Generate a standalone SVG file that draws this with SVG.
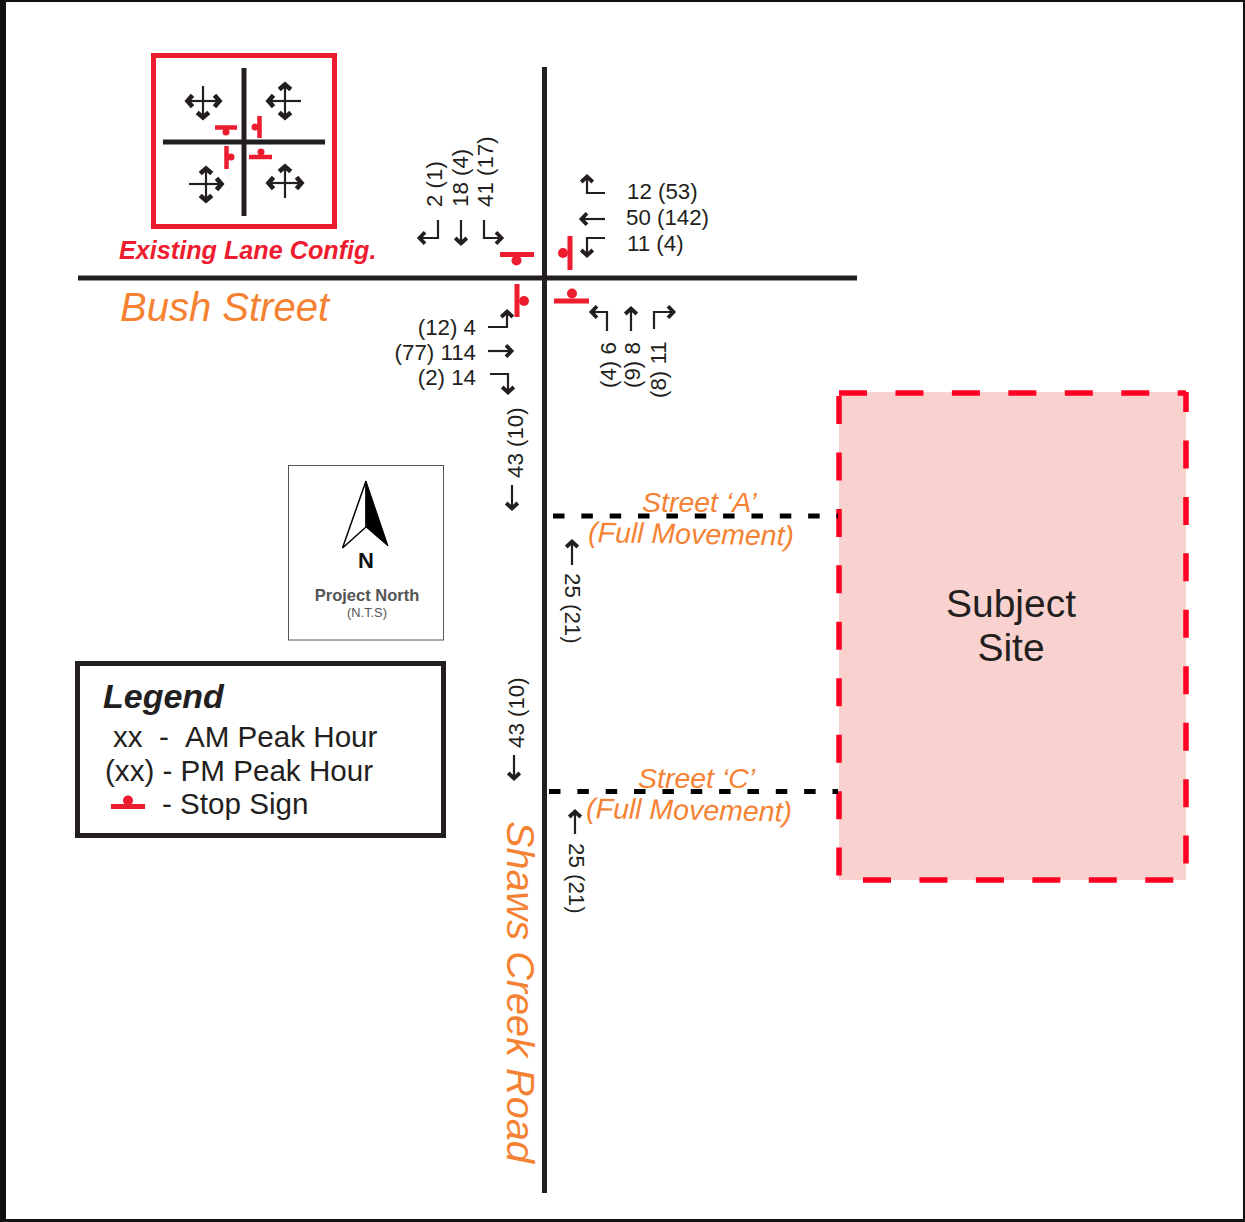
<svg xmlns="http://www.w3.org/2000/svg" width="1245" height="1222" viewBox="0 0 1245 1222">
<style>
text{font-family:"Liberation Sans",Arial,sans-serif;fill:#231f20}
.v{font-size:22.3px}
.o{font-style:italic;fill:#f58233}
.st{font-size:28.5px}
.lg{font-size:29.6px}
.road{stroke:#231f20;stroke-width:5;fill:none}
.a{stroke:#231f20;stroke-width:2.200;fill:none;marker-end:url(#h)}
.c{stroke:#231f20;stroke-width:2.200;fill:none;marker-end:url(#k)}
.b{stroke:#231f20;stroke-width:2.200;fill:none}
.stopbar{stroke:#ed1c2e;stroke-width:5;fill:none}
.stopdot{fill:#ed1c2e}
.sb2{stroke:#ed1c2e;stroke-width:4.5;fill:none}
.sd{stroke:#ff0022;stroke-width:5.500;fill:none;stroke-dasharray:28 28.450}
</style>
<defs>
<marker id="h" markerUnits="userSpaceOnUse" markerWidth="18" markerHeight="18" refX="13" refY="8" orient="auto-start-reverse" overflow="visible">
<path d="M7 2.200L12.500 8L7 13.800" fill="none" stroke="#231f20" stroke-width="3.800"/>
</marker>
<marker id="k" markerUnits="userSpaceOnUse" markerWidth="18" markerHeight="18" refX="13" refY="8" orient="auto-start-reverse" overflow="visible">
<path d="M7.500 2.200L12.500 8L7.500 13.800" fill="none" stroke="#231f20" stroke-width="4.600"/>
</marker>
</defs>
<rect width="1245" height="1222" fill="#fff"/>
<path d="M0 0H1245V1222H0ZM6 2V1219H1243V2Z" fill="#111" fill-rule="evenodd"/>

<g id="site">
<rect x="839" y="392" width="347" height="488" fill="#f9d2d0"/>
<path class="sd" d="M839 393H1186"/>
<path class="sd" d="M839 396V877"/>
<path class="sd" d="M1186 392V880" stroke-dashoffset="8"/>
<path class="sd" d="M863 880H1186"/>
<text x="1011" y="617" font-size="39" text-anchor="middle">Subject</text>
<text x="1011" y="661" font-size="39" text-anchor="middle">Site</text>
</g>

<g id="roads">
<path class="road" d="M544.500 67V1193M78 278H857"/>
<path d="M553 516H838M549 791.500H838" stroke="#000" stroke-width="5" stroke-dasharray="11.500 16.850" fill="none"/>
</g>

<g id="connectors">
<path class="a" d="M438 220V238H419"/>
<path class="a" d="M461 220V244"/>
<path class="a" d="M484 220V238H502"/>
<path class="a" d="M605 193H587V176"/>
<path class="a" d="M605 219H581"/>
<path class="a" d="M605 238H587V256"/>
<path class="a" d="M488 327H507V311"/>
<path class="a" d="M488 351H512"/>
<path class="a" d="M490 374H508V393"/>
<path class="a" d="M607 331V312H591"/>
<path class="a" d="M631 331V308"/>
<path class="a" d="M654 329V312H674"/>
<path class="a" d="M512 485V509"/>
<path class="a" d="M514 755V779"/>
<path class="a" d="M572 565V541"/>
<path class="a" d="M575 834V811"/>
</g>

<g id="stop-signs">
<path class="stopbar" d="M500 254.500H534M570 236V270M517 284V317M554 301H589"/>
<circle class="stopdot" cx="516.500" cy="260.500" r="5"/>
<circle class="stopdot" cx="563" cy="253" r="5"/>
<circle class="stopdot" cx="524" cy="301" r="5"/>
<circle class="stopdot" cx="572" cy="293.500" r="5"/>
</g>

<g id="inset">
<rect x="153.500" y="55.500" width="181" height="171" fill="#fff" stroke="#ed1c2e" stroke-width="5"/>
<path class="road" d="M244 68V216M163 142H325"/>
<path class="sb2" d="M215 127.500H237M259.500 116V138M226.500 146V169M249 157H272"/>
<circle class="stopdot" cx="226" cy="132" r="3.500"/>
<circle class="stopdot" cx="255" cy="127" r="3.500"/>
<circle class="stopdot" cx="231" cy="157" r="3.500"/>
<circle class="stopdot" cx="261" cy="152" r="3.500"/>
<path class="c" d="M203 101H187"/><path class="c" d="M203 101H220"/><path class="b" d="M203 86V101"/><path class="c" d="M203 101V118"/>
<path class="c" d="M285 101H268"/><path class="b" d="M285 101H301"/><path class="c" d="M285 101V84"/><path class="c" d="M285 101V118"/>
<path class="b" d="M206 184H189"/><path class="c" d="M206 184H222"/><path class="c" d="M206 184V168"/><path class="c" d="M206 184V201"/>
<path class="c" d="M285 183H268"/><path class="c" d="M285 183H302"/><path class="c" d="M285 183V166"/><path class="b" d="M285 183V198"/>
<text x="119" y="259" font-size="25.200" font-weight="bold" font-style="italic" style="fill:#ed1c2e">Existing Lane Config.</text>
</g>

<g id="volume-labels">
<text class="v" transform="translate(442 207) rotate(-90)">2 (1)</text>
<text class="v" transform="translate(468 207) rotate(-90)">18 (4)</text>
<text class="v" transform="translate(493 207) rotate(-90)">41 (17)</text>
<text class="v" x="627" y="199">12 (53)</text>
<text class="v" x="626" y="225">50 (142)</text>
<text class="v" x="627" y="251">11 (4)</text>
<text class="v" x="476" y="335" text-anchor="end">(12) 4</text>
<text class="v" x="476" y="360" text-anchor="end">(77) 114</text>
<text class="v" x="476" y="385" text-anchor="end">(2) 14</text>
<text class="v" transform="translate(616 388) rotate(-90)">(4) 6</text>
<text class="v" transform="translate(640 388) rotate(-90)">(9) 8</text>
<text class="v" transform="translate(666 398) rotate(-90)">(8) 11</text>
<text class="v" transform="translate(523 478) rotate(-90)">43 (10)</text>
<text class="v" transform="translate(524 748) rotate(-90)">43 (10)</text>
<text class="v" transform="translate(565 573) rotate(90)">25 (21)</text>
<text class="v" transform="translate(569 843) rotate(90)">25 (21)</text>
</g>

<g id="road-labels">
<text class="o" x="120" y="321" font-size="40">Bush Street</text>
<text class="o" transform="translate(507 821) rotate(90)" font-size="39.700">Shaws Creek Road</text>
<text class="o st" x="642" y="512">Street ‘A’</text>
<text class="o st" transform="translate(588 542) rotate(1)">(Full Movement)</text>
<text class="o st" x="638" y="788">Street ‘C’</text>
<text class="o st" transform="translate(586 818) rotate(1)">(Full Movement)</text>
</g>

<g id="compass">
<rect x="288.500" y="465.500" width="155" height="174.500" fill="#fff" stroke="#555" stroke-width="1"/>
<path d="M366 481L342.500 548L366 527Z" fill="#fff" stroke="#000" stroke-width="1.500"/>
<path d="M366 481L388 546L366 527Z" fill="#000" stroke="#000"/>
<text x="366" y="568" font-size="22" font-weight="bold" text-anchor="middle" style="fill:#111">N</text>
<text x="367" y="601" font-size="16.500" font-weight="bold" text-anchor="middle" style="fill:#555">Project North</text>
<text x="367" y="617" font-size="12.800" text-anchor="middle" style="fill:#555">(N.T.S)</text>
</g>

<g id="legend">
<rect x="77.500" y="663.500" width="366" height="172" fill="#fff" stroke="#231f20" stroke-width="5"/>
<text x="103" y="708" font-size="34" font-weight="bold" font-style="italic">Legend</text>
<text class="lg" x="113" y="747">xx</text>
<text class="lg" x="159" y="747">-</text>
<text class="lg" x="185" y="747">AM Peak Hour</text>
<text class="lg" x="105" y="781">(xx) - PM Peak Hour</text>
<text class="lg" x="162" y="814">- Stop Sign</text>
<path class="stopbar" d="M111 806.500H145"/>
<circle class="stopdot" cx="128" cy="800.500" r="5"/>
</g>
</svg>
